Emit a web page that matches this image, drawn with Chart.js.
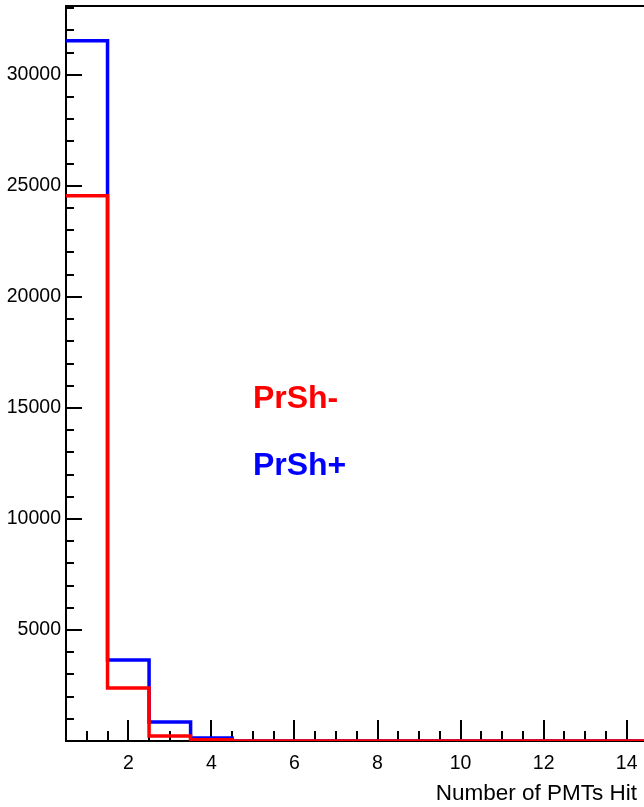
<!DOCTYPE html>
<html>
<head>
<meta charset="utf-8">
<script src="https://cdn.jsdelivr.net/npm/chart.js@4.4.0/dist/chart.umd.min.js"></script>
<style>
  html, body { margin: 0; padding: 0; background: #fff; overflow: hidden; }
  #wrap { width: 760px; height: 807px; }
</style>
</head>
<body>
<div id="wrap"><canvas id="pmt" width="760" height="807"></canvas></div>
<script>
const FONT = '"Liberation Sans", Arial, Helvetica, sans-serif';

// multiplicity histogram, one bin per PMT count
const binCenters = [1, 2, 3, 4, 5, 6, 7, 8, 9, 10, 11, 12, 13, 14, 15];
const prshMinus = [24550, 2390, 225, 60, 0, 0, 0, 0, 0, 0, 0, 0, 0, 0, 0];
const prshPlus = [31530, 3650, 860, 130, 0, 0, 0, 0, 0, 0, 0, 0, 0, 0, 0];

const xTickValues = [2, 4, 6, 8, 10, 12, 14];
const yTickValues = [5000, 10000, 15000, 20000, 25000, 30000];
const xTitle = 'Number of PMTs Hit';

const X_MIN = 0.5;
const X_MAX = 15.5;
const Y_MAX = 33100;

// left bin edges + closing edge, drawn as a step line
function toSteps(values) {
  const pts = values.map((v, i) => ({ x: binCenters[i] - 0.5, y: v }));
  pts.push({ x: binCenters[binCenters.length - 1] + 0.5, y: 0 });
  return pts;
}

// ROOT-like frame: ticks point into the plot, minor ticks in between
const frameAxes = {
  id: 'frameAxes',
  beforeDatasetsDraw(chart) {
    const { ctx, chartArea: a, scales: { x, y } } = chart;
    ctx.save();
    ctx.strokeStyle = '#000';
    ctx.lineWidth = 2;
    ctx.beginPath();
    ctx.moveTo(a.left, a.top);
    ctx.lineTo(a.right, a.top);
    ctx.lineTo(a.right, a.bottom);
    ctx.lineTo(a.left, a.bottom);
    ctx.closePath();
    ctx.stroke();

    ctx.beginPath();
    for (let v = 1000; v <= Y_MAX; v += 1000) {
      const py = Math.round(y.getPixelForValue(v));
      const len = v % 5000 === 0 ? 16 : 8;
      ctx.moveTo(a.left, py);
      ctx.lineTo(a.left + len, py);
    }
    for (let v = 1; v < X_MAX; v += 0.5) {
      const px = Math.round(x.getPixelForValue(v));
      const len = v % 2 === 0 ? 21 : 10;
      ctx.moveTo(px, a.bottom);
      ctx.lineTo(px, a.bottom - len);
    }
    ctx.stroke();
    ctx.restore();
  },
  afterDraw(chart) {
    const { ctx, scales: { x, y } } = chart;
    ctx.save();
    ctx.textAlign = 'left';
    ctx.textBaseline = 'alphabetic';
    ctx.font = `bold 32px ${FONT}`;
    ctx.fillStyle = '#ff0000';
    ctx.fillText('PrSh-', x.getPixelForValue(5), y.getPixelForValue(15000));
    ctx.fillStyle = '#0000ff';
    ctx.fillText('PrSh+', x.getPixelForValue(5), y.getPixelForValue(12000));

    ctx.font = `22.5px ${FONT}`;
    ctx.fillStyle = '#000';
    ctx.textAlign = 'right';
    ctx.fillText(xTitle, 637, 800);
    ctx.restore();
  },
};

new Chart(document.getElementById('pmt'), {
  type: 'line',
  data: {
    datasets: [
      {
        label: 'PrSh-',
        data: toSteps(prshMinus),
        borderColor: '#ff0000',
        borderWidth: 3.5,
        stepped: 'before',
        pointRadius: 0,
        fill: false,
        order: 0,
      },
      {
        label: 'PrSh+',
        data: toSteps(prshPlus),
        borderColor: '#0000ff',
        borderWidth: 3.5,
        stepped: 'before',
        pointRadius: 0,
        fill: false,
        order: 1,
      },
    ],
  },
  options: {
    responsive: false,
    animation: false,
    layout: { padding: { top: 6, right: 71, left: 0, bottom: 0 } },
    plugins: {
      legend: { display: false },
      tooltip: { enabled: false },
    },
    scales: {
      x: {
        type: 'linear',
        min: X_MIN,
        max: X_MAX,
        grid: { display: false, drawTicks: false },
        border: { display: false },
        afterBuildTicks: (axis) => { axis.ticks = xTickValues.map((v) => ({ value: v })); },
        afterFit: (axis) => { axis.height = 66; axis.paddingLeft = 0; axis.paddingRight = 0; },
        ticks: {
          color: '#000',
          font: { family: FONT, size: 19.5 },
          padding: 11,
          maxRotation: 0,
          autoSkip: false,
          callback: (v) => String(v),
        },
      },
      y: {
        type: 'linear',
        min: 0,
        max: Y_MAX,
        grid: { display: false, drawTicks: false },
        border: { display: false },
        afterBuildTicks: (axis) => { axis.ticks = yTickValues.map((v) => ({ value: v })); },
        afterFit: (axis) => { axis.width = 66; axis.paddingTop = 0; axis.paddingBottom = 0; },
        ticks: {
          color: '#000',
          font: { family: FONT, size: 19.5 },
          padding: 5,
          autoSkip: false,
          callback: (v) => String(v),
        },
      },
    },
  },
  plugins: [frameAxes],
});
</script>
</body>
</html>
